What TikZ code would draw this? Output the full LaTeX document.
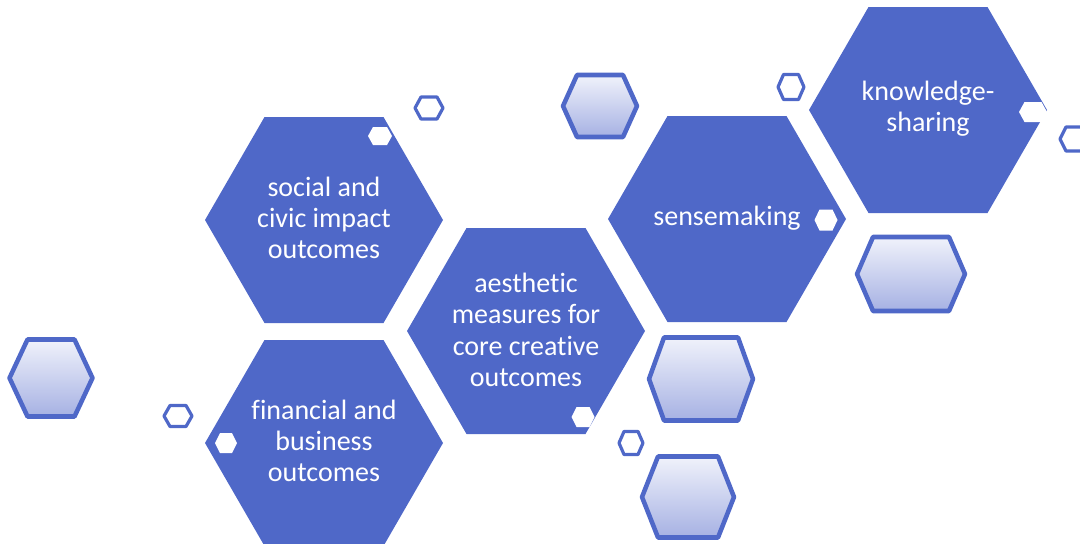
\documentclass[tikz,border=0pt]{standalone}
\usepackage{fontspec}
\setmainfont[Ligatures=NoCommon]{Carlito}
\usepackage{tikz}
\usetikzlibrary{calc,positioning}
\definecolor{hexblue}{RGB}{79,104,200}
\definecolor{hexlight}{RGB}{240,242,251}
\definecolor{hexdeep}{RGB}{166,177,227}
\tikzset{bighex/.style={fill=hexblue}}
\tikzset{gradhex/.style={draw=hexblue, line width=3.4pt, line join=round, top color=hexlight, bottom color=hexdeep}}
\tikzset{ringhex/.style={draw=hexblue, line width=2.4pt, line join=round, fill=white}}
\tikzset{dothex/.style={fill=white}}
\tikzstyle{lbl}=[text=white, align=center, font=\fontsize{21}{23.5}\selectfont]
% hexagon by centre, half width, inset of the top edge, half height
\newcommand{\hexshape}[6][]{%
  \path[#1] ({#2-#4},#3) -- ({#2-#4+#5},{#3-#6}) -- ({#2+#4-#5},{#3-#6})
    -- ({#2+#4},#3) -- ({#2+#4-#5},{#3+#6}) -- ({#2-#4+#5},{#3+#6}) -- cycle;}
\begin{document}
\begin{tikzpicture}[x=0.75pt, y=-0.75pt]
\useasboundingbox (0,0) rectangle (1080,543);
% big hexagons
\hexshape[bighex]{324}{220}{119}{59.5}{103}
\hexshape[bighex]{324}{443}{119}{59.5}{103}
\hexshape[bighex]{526}{331}{119}{59.5}{103}
\hexshape[bighex]{727}{219}{119}{59.5}{103}
\hexshape[bighex]{928}{110}{119}{59.5}{103}
% shaded hexagons
\hexshape[gradhex]{51}{378}{41.5}{18}{38.5}
\hexshape[gradhex]{600}{106}{37}{14}{31}
\hexshape[gradhex]{911}{274}{54}{16}{37}
\hexshape[gradhex]{701}{379}{52}{15}{41.5}
\hexshape[gradhex]{688}{497}{46}{16}{40.5}
% small rings
\hexshape[ringhex]{429}{108}{14}{6}{11}
\hexshape[ringhex]{791}{87}{13}{5.5}{12.5}
\hexshape[ringhex]{1074}{139}{14}{6}{12}
\hexshape[ringhex]{178}{416}{14}{6}{10.5}
\hexshape[ringhex]{631}{443}{12}{5}{11.5}
% white dots
\hexshape[dothex]{380}{136}{12}{5}{9}
\hexshape[dothex]{1033}{112}{14}{5.5}{10}
\hexshape[dothex]{826}{220}{11.5}{5}{10.5}
\hexshape[dothex]{583}{417}{11.5}{5}{10}
\hexshape[dothex]{226}{443}{11}{5}{10}
% labels
\node[lbl] (social) at (324,218) {social and\\civic impact\\outcomes};
\node[lbl] (financial) at (324,441) {financial and\\business\\outcomes};
\node[lbl] (aesthetic) at (526,330) {aesthetic\\measures for\\core creative\\outcomes};
\node[lbl] (sensemaking) at (727,218) {sensemaking};
\node[lbl] (knowledge) at (928,109) {knowledge-\\sharing};
\end{tikzpicture}
\end{document}
